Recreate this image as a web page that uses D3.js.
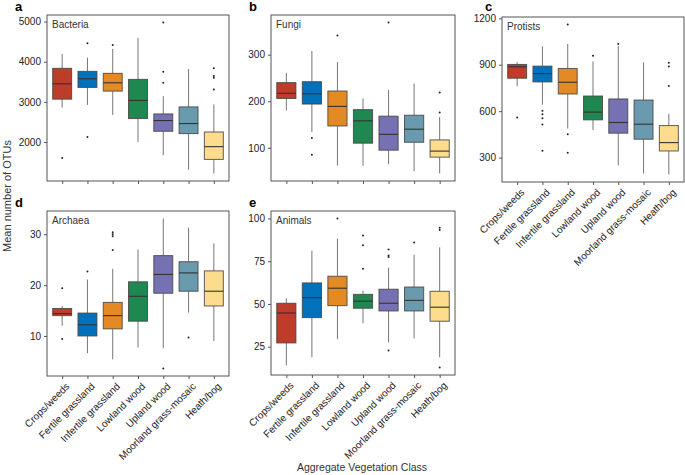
<!DOCTYPE html>
<html>
<head>
<meta charset="utf-8">
<style>
  body { margin: 0; background: #fff; }
  svg { font-family: "Liberation Sans", Arial, sans-serif; }
</style>
</head>
<body>
<div id="chart"></div>
<script src="https://cdn.jsdelivr.net/npm/d3@7"></script>
<script>
// categories on the x axis
const categories = ["Crops/weeds", "Fertile grassland", "Infertile grassland", "Lowland wood",
                    "Upland wood", "Moorland grass-mosaic", "Heath/bog"];
const colors = ["#BF3B2A", "#0071BA", "#E48A25", "#1F8750", "#7671B2", "#6A9AAE", "#FEDC8D"];

// box stats per class: [lower whisker, q1, median, q3, upper whisker]
const bacteriaStats = [[2860, 3068, 3450, 3835, 4192], [2925, 3360, 3575, 3760, 4100], [2675, 3268, 3475, 3710, 4318],
                       [2000, 2585, 3035, 3560, 4593], [1668, 2268, 2535, 2700, 3143], [1310, 2210, 2460, 2875, 3818],
                       [1218, 1568, 1885, 2250, 2935]];
const bacteriaOutliers = [[1600], [2125, 4460], [4418], [], [3475, 3750, 4975], [], [3310, 3600, 3643, 3835]];
const bacteriaTicks = [2000, 3000, 4000, 5000];

const fungiStats = [[180, 206, 217, 240, 261], [134, 194, 216, 242, 308], [62, 147, 189, 222, 284],
                    [61, 110, 158, 182, 206], [65, 95, 129, 168, 224], [50, 112, 140, 170, 238],
                    [45, 80, 93, 117, 166]];
const fungiOutliers = [[], [85, 121], [341], [], [369], [], [176, 219]];
const fungiTicks = [100, 200, 300];

const protistStats = [[761, 813, 887, 902, 917], [642, 789, 843, 891, 1019], [488, 711, 787, 876, 1034],
                      [479, 544, 594, 698, 921], [250, 458, 527, 679, 1021], [198, 419, 516, 672, 915],
                      [191, 343, 397, 507, 583]];
const protistOutliers = [[559], [345, 514, 555, 581, 603], [332, 451, 1160], [958], [1034], [], [763, 889, 913]];
const protistTicks = [300, 600, 900, 1200];

const archaeaStats = [[12.0, 14.0, 14.4, 15.4, 15.9], [6.6, 10.0, 12.2, 14.5, 21.1], [5.4, 11.4, 14.0, 16.6, 23.2],
                      [7.7, 12.9, 17.8, 20.65, 27.0], [7.6, 18.4, 22.1, 25.8, 33.1], [14.6, 18.8, 22.4, 24.6, 31.3],
                      [9.0, 15.9, 18.8, 22.8, 28.2]];
const archaeaOutliers = [[9.4, 19.4], [22.7], [26.9, 29.6, 30.0, 30.4], [], [3.6], [9.7], []];
const archaeaTicks = [10, 20, 30];

const animalStats = [[14.0, 27.2, 44.7, 50.4, 53.3], [18.8, 42.0, 53.7, 62.3, 81.2], [29.4, 49.0, 59.2, 66.2, 88.2],
                     [38.7, 47.5, 51.6, 55.6, 57.8], [27.6, 45.9, 50.4, 58.6, 71.2], [29.8, 45.9, 52.1, 59.9, 78.8],
                     [18.8, 39.9, 48.1, 57.4, 83.1]];
const animalOutliers = [[], [], [100], [70.6, 84.3, 90.1], [22.7, 77.5, 78.4, 81.9], [86.0], [12.8, 93.2, 94.6]];
const animalTicks = [25, 50, 75, 100];

const width = 685, height = 475;

// panel frames (left, top, right, bottom), letter position and whether x labels are shown
const panels = [
  { letter: "a", lx: 15, ly: 11, title: "Bacteria", stats: bacteriaStats, outliers: bacteriaOutliers, ticks: bacteriaTicks, x0: 47, y0: 15, x1: 229, y1: 181, labels: false },
  { letter: "b", lx: 249, ly: 11, title: "Fungi", stats: fungiStats, outliers: fungiOutliers, ticks: fungiTicks, x0: 271, y0: 15, x1: 455, y1: 181, labels: false },
  { letter: "c", lx: 485, ly: 11, title: "Protists", stats: protistStats, outliers: protistOutliers, ticks: protistTicks, x0: 502, y0: 17, x1: 684, y1: 182, labels: true },
  { letter: "d", lx: 15, ly: 207, title: "Archaea", stats: archaeaStats, outliers: archaeaOutliers, ticks: archaeaTicks, x0: 47, y0: 211, x1: 229, y1: 376, labels: true },
  { letter: "e", lx: 249, ly: 207, title: "Animals", stats: animalStats, outliers: animalOutliers, ticks: animalTicks, x0: 271, y0: 211, x1: 455, y1: 375, labels: true }
];

const svg = d3.select("#chart").append("svg")
  .attr("width", width)
  .attr("height", height);

panels.forEach(p => {
  // ggplot style 5% expansion of the data range
  const allVals = p.stats.flat().concat(p.outliers.flat());
  const lo = d3.min(allVals), hi = d3.max(allVals);
  const pad = (hi - lo) * 0.05;
  const y = d3.scaleLinear().domain([lo - pad, hi + pad]).range([p.y1, p.y0]);

  // discrete axis with 0.6 expansion each side
  const x = d3.scalePoint().domain(categories).range([p.x0, p.x1]).padding(0.6);
  const step = x.step();
  const boxW = step * 0.75;

  const g = svg.append("g");

  // frame
  g.append("rect")
    .attr("x", p.x0).attr("y", p.y0)
    .attr("width", p.x1 - p.x0).attr("height", p.y1 - p.y0)
    .attr("fill", "none").attr("stroke", "#555").attr("stroke-width", 1);

  // y axis
  const yAxis = g.append("g")
    .attr("transform", `translate(${p.x0},0)`)
    .call(d3.axisLeft(y).tickValues(p.ticks).tickSize(3).tickPadding(3).tickFormat(d3.format("d")));
  yAxis.select(".domain").remove();
  yAxis.selectAll("line").attr("stroke", "#555");
  yAxis.selectAll("text").attr("font-size", 10).attr("fill", "#222")
    .attr("font-family", "Liberation Sans, Arial, sans-serif");

  // x axis ticks
  const xAxis = g.append("g")
    .attr("transform", `translate(0,${p.y1})`)
    .call(d3.axisBottom(x).tickSize(3).tickFormat(""));
  xAxis.select(".domain").remove();
  xAxis.selectAll("line").attr("stroke", "#555");

  if (p.labels) {
    g.selectAll(".xlab")
      .data(categories)
      .enter().append("text")
      .attr("transform", d => `translate(${x(d) + 3},${p.y1 + 6}) rotate(-45)`)
      .attr("text-anchor", "end")
      .attr("dy", "0.7em")
      .attr("font-size", 10)
      .attr("fill", "#222")
      .text(d => d);
  }

  // panel letter and title
  svg.append("text")
    .attr("x", p.lx).attr("y", p.ly)
    .attr("font-size", 13).attr("font-weight", "bold")
    .text(p.letter);
  g.append("text")
    .attr("x", p.x0 + 5).attr("y", p.y0 + 13)
    .attr("font-size", 10).attr("fill", "#333")
    .text(p.title);

  // boxes
  const box = g.selectAll(".box")
    .data(p.stats.map((s, i) => ({ s, i, cat: categories[i] })))
    .enter().append("g");

  box.append("line")
    .attr("x1", d => x(d.cat)).attr("x2", d => x(d.cat))
    .attr("y1", d => y(d.s[4])).attr("y2", d => y(d.s[3]))
    .attr("stroke", "#666").attr("stroke-width", 0.9);
  box.append("line")
    .attr("x1", d => x(d.cat)).attr("x2", d => x(d.cat))
    .attr("y1", d => y(d.s[1])).attr("y2", d => y(d.s[0]))
    .attr("stroke", "#666").attr("stroke-width", 0.9);

  box.append("rect")
    .attr("x", d => x(d.cat) - boxW / 2)
    .attr("width", boxW)
    .attr("y", d => y(d.s[3]))
    .attr("height", d => y(d.s[1]) - y(d.s[3]))
    .attr("fill", d => colors[d.i])
    .attr("stroke", "#444").attr("stroke-opacity", 0.85).attr("stroke-width", 1);

  box.append("line")
    .attr("x1", d => x(d.cat) - boxW / 2).attr("x2", d => x(d.cat) + boxW / 2)
    .attr("y1", d => y(d.s[2])).attr("y2", d => y(d.s[2]))
    .attr("stroke", "#333").attr("stroke-width", 1.1);

  // outliers
  const pts = [];
  p.outliers.forEach((arr, i) => arr.forEach(v => pts.push({ cat: categories[i], v })));
  g.selectAll(".out")
    .data(pts)
    .enter().append("circle")
    .attr("cx", d => x(d.cat))
    .attr("cy", d => y(d.v))
    .attr("r", 1)
    .attr("fill", "#222");
});

// shared axis titles
svg.append("text")
  .attr("transform", "translate(11,196) rotate(-90)")
  .attr("text-anchor", "middle")
  .attr("font-size", 11).attr("fill", "#333")
  .text("Mean number of OTUs");

svg.append("text")
  .attr("x", 362).attr("y", 471)
  .attr("text-anchor", "middle")
  .attr("font-size", 10.5).attr("fill", "#333")
  .text("Aggregate Vegetation Class");
</script>
</body>
</html>
